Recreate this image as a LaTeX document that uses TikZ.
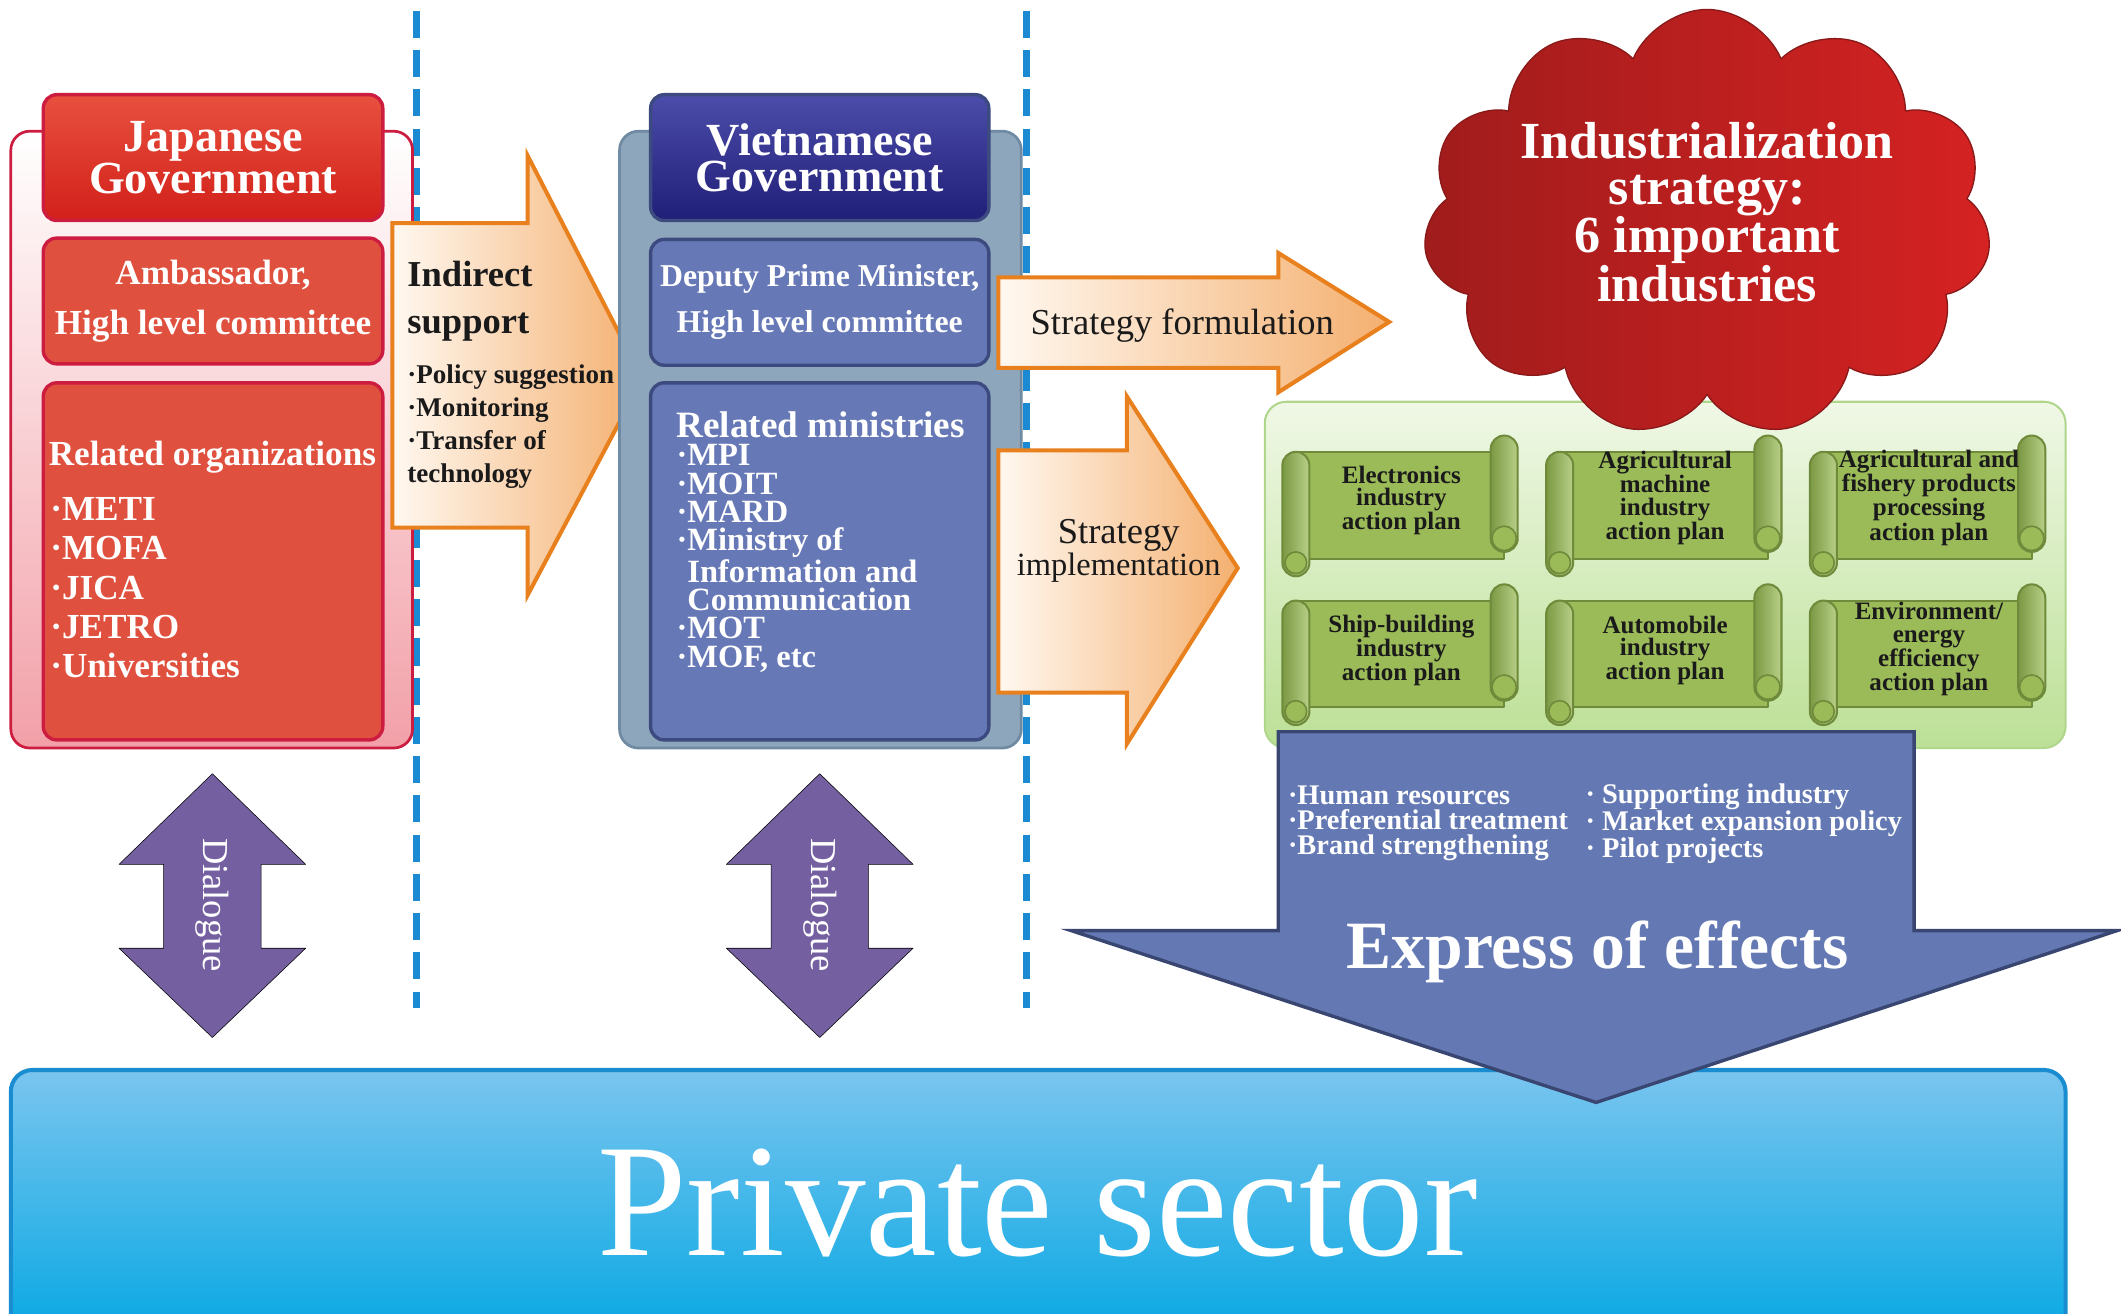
\documentclass[tikz,border=0pt]{standalone}
\usepackage{fontspec}
\setmainfont{Liberation Serif}
\usetikzlibrary{shapes.symbols}
\newcommand{\myfs}[2]{\fontsize{#1}{#2}\selectfont}
\definecolor{jpBorder}{HTML}{CC1C40}
\definecolor{jpOuterF}{HTML}{F2A0A8}
\definecolor{jpHeadT}{HTML}{E8503E}
\definecolor{jpHead}{HTML}{D2201A}
\definecolor{jpAmb}{HTML}{E0503E}
\definecolor{vnOuterF}{HTML}{8EA6BB}
\definecolor{vnOuterB}{HTML}{6F8AA3}
\definecolor{vnHeadT}{HTML}{4C4CAA}
\definecolor{vnHead}{HTML}{1F1F78}
\definecolor{vnBox}{HTML}{6678B6}
\definecolor{vnBorder}{HTML}{3C4A80}
\definecolor{arrL}{HTML}{FFF8F0}
\definecolor{arrR}{HTML}{F4B070}
\definecolor{arrB}{HTML}{E8801E}
\definecolor{cloudL}{HTML}{A01C1C}
\definecolor{cloudR}{HTML}{D62222}
\definecolor{cloudB}{HTML}{8A1A1A}
\definecolor{grT}{HTML}{F0F8E6}
\definecolor{grB}{HTML}{BCE096}
\definecolor{grBorder}{HTML}{B0D68C}
\definecolor{scrF}{HTML}{9BBB59}
\definecolor{scrR}{HTML}{A6C46A}
\definecolor{scrB}{HTML}{6E8A3A}
\definecolor{effF}{HTML}{6479B4}
\definecolor{effB}{HTML}{3A4672}
\definecolor{psT}{HTML}{7AC5EF}
\definecolor{psM}{HTML}{34B0E8}
\definecolor{psB}{HTML}{00A6E2}
\definecolor{psBorder}{HTML}{1A8CD0}
\definecolor{dlg}{HTML}{7460A0}
\definecolor{dashc}{HTML}{1B8AD2}
\definecolor{txtk}{HTML}{1A1A1A}
\tikzset{
  scrollpic/.pic={
    \draw[fill=scrF, draw=scrB, line width=1.5pt] (10,12) rectangle (164,91);
    \draw[left color=scrB!70!scrF, right color=scrR!80!white, draw=scrB, line width=1.5pt, rounded corners=10pt] (0,12) rectangle (20,104);
    \draw[fill=scrF, draw=scrB, line width=1.2pt] (10,94) circle (8);
    \draw[left color=scrB!70!scrF, right color=scrR!80!white, draw=scrB, line width=1.5pt, rounded corners=10pt] (154,0) rectangle (174,86);
    \draw[fill=scrF, draw=scrB, line width=1.2pt] (164,76) circle (9);
  }
}
\begin{document}
\begin{tikzpicture}[x=1pt,y=-1pt,line join=round,
  box/.style={rounded corners=10pt, line width=2.5pt, inner sep=0pt},
  txt/.style={inner sep=0pt},
  wtxt/.style={txt, text=white},
  ktxt/.style={txt, text=txtk},
  bigarrow/.style={draw=arrB, line width=3pt, left color=arrL, right color=arrR, line join=miter},
  dashline/.style={draw=dashc, line width=5pt, dash pattern=on 20pt off 9pt},
  dialogue/.style={fill=dlg},
  scrtxt/.style={ktxt, font=\bfseries\myfs{18.5}{16.5}, align=center}
]
\clip (0,0) rectangle (1568,971);
\fill[white] (0,0) rectangle (1568,971);

% dashed separators
\coordinate (d1a) at (308,8); \coordinate (d1b) at (308,745);
\coordinate (d2a) at (759,8); \coordinate (d2b) at (759,745);
\draw[dashline] (d1a) -- (d1b);
\draw[dashline] (d2a) -- (d2b);

% Japanese government group
\node[box, rounded corners=14pt, draw=jpBorder, line width=2pt, top color=white, bottom color=jpOuterF, minimum width=297pt, minimum height=456pt] (jpouter) at (156.5,325) {};
\node[box, draw=jpBorder, top color=jpHeadT, bottom color=jpHead, minimum width=251pt, minimum height=93pt, text=white, font=\bfseries\myfs{34}{27}, align=center] (jphead) at (157.5,116.5) {Japanese\\Government};
\node[box, draw=jpBorder, fill=jpAmb, minimum width=251pt, minimum height=93pt, text=white, font=\bfseries\myfs{26}{37}, align=center] (jpamb) at (157.5,222.5) {Ambassador,\\High level committee};
\node[box, draw=jpBorder, fill=jpAmb, minimum width=251pt, minimum height=264pt] (jporg) at (157.5,415) {};
\node[wtxt, font=\bfseries\myfs{26}{29}] (jporgt) at (157,338) {Related organizations};
\node[wtxt, anchor=west, align=left, font=\bfseries\myfs{26}{29}] (jporgl) at (37,434.5) {·METI\\·MOFA\\·JICA\\·JETRO\\·Universities};

% Indirect support arrow
\draw[bigarrow] (290,165) -- (390,165) -- (390,115) -- (475,280) -- (390,440) -- (390,390) -- (290,390) -- cycle;
\node[ktxt, anchor=west, align=left, font=\bfseries\myfs{27}{35}] (indt) at (301,222.5) {Indirect\\support};
\node[ktxt, anchor=west, align=left, font=\bfseries\myfs{20}{24.3}] (indl) at (301,315.5) {·Policy suggestion\\·Monitoring\\·Transfer of\\technology};

% Vietnamese government group
\node[box, rounded corners=14pt, draw=vnOuterB, line width=2pt, fill=vnOuterF, minimum width=297pt, minimum height=456pt] (vnouter) at (606.5,325) {};
\node[box, draw=vnBorder, top color=vnHeadT, bottom color=vnHead, minimum width=250pt, minimum height=93pt, text=white, font=\bfseries\myfs{34}{27}, align=center] (vnhead) at (606,116.5) {Vietnamese\\Government};
\node[box, draw=vnBorder, fill=vnBox, minimum width=250pt, minimum height=93pt, text=white, font=\bfseries\myfs{23.5}{34}, align=center] (vndep) at (606,223.5) {Deputy Prime Minister,\\High level committee};
\node[box, draw=vnBorder, fill=vnBox, minimum width=250pt, minimum height=264pt] (vnmin) at (606,415) {};
\node[wtxt, anchor=north west, align=left, font=\bfseries\myfs{24}{21}] (vnminl) at (500,304) {{\myfs{27.5}{24}Related ministries}\\·MPI\\·MOIT\\·MARD\\·Ministry of\\\phantom{·}Information and\\\phantom{·}Communication\\·MOT\\·MOF, etc};

% strategy arrows
\draw[bigarrow] (738,205) -- (945,205) -- (945,187) -- (1027,238) -- (945,290) -- (945,272) -- (738,272) -- cycle;
\node[ktxt, anchor=base, font=\myfs{27}{27}] (formt) at (874,247) {Strategy formulation};
\draw[bigarrow] (738,333) -- (833,333) -- (833,293) -- (915,420) -- (833,550) -- (833,512) -- (738,512) -- cycle;
\node[ktxt, align=center, font=\myfs{24}{21.5}] (implt) at (827,407) {{\myfs{27}{21.5}Strategy}\\implementation};

% green action-plan panel
\node[rounded corners=16pt, draw=grBorder, line width=1.5pt, top color=grT, bottom color=grB, minimum width=592pt, minimum height=256pt, inner sep=0pt] (green) at (1231,425) {};

% cloud
\node[cloud, cloud puffs=11, cloud puff arc=135, cloud ignores aspect, minimum width=420pt, minimum height=316pt, left color=cloudL, right color=cloudR, draw=cloudB, line width=1pt, inner sep=0pt] (cloud) at (1262,165) {};
\node[wtxt, align=center, font=\bfseries\myfs{38.5}{33.5}] (cloudt) at (1262,157) {Industrialization\\strategy:\\6 important\\industries};

% scrolls
\pic at (948,322) {scrollpic};
\pic at (1143,322) {scrollpic};
\pic at (1338,322) {scrollpic};
\pic at (948,432) {scrollpic};
\pic at (1143,432) {scrollpic};
\pic at (1338,432) {scrollpic};
\node[scrtxt] (s1) at (1036,370) {Electronics\\industry\\action plan};
\node[scrtxt] (s2) at (1231,368) {Agricultural\\machine\\industry\\action plan};
\node[scrtxt] (s3) at (1426,368) {Agricultural and\\fishery products\\processing\\action plan};
\node[scrtxt] (s4) at (1036,481) {Ship-building\\industry\\action plan};
\node[scrtxt] (s5) at (1231,481) {Automobile\\industry\\action plan};
\node[scrtxt] (s6) at (1426,480) {Environment/\\energy\\efficiency\\action plan};

% private sector
\node[rounded corners=16pt, draw=psBorder, line width=3pt, top color=psT, middle color=psM, bottom color=psB, minimum width=1519pt, minimum height=210pt, inner sep=0pt] (private) at (767.5,896) {};
\node[wtxt, anchor=base, font=\myfs{119}{119}] (privt) at (767,928) {Private sector};

% express of effects arrow
\draw[fill=effF, draw=effB, line width=2.5pt, line join=miter] (945,541) -- (1415,541) -- (1415,688) -- (1565,688) -- (1180,815) -- (792,688) -- (945,688) -- cycle;
\node[wtxt, anchor=west, align=left, font=\bfseries\myfs{21}{18.5}] (effl) at (952,609) {·Human resources\\·Preferential treatment\\·Brand strengthening};
\node[wtxt, anchor=west, align=left, font=\bfseries\myfs{21}{18.5}] (effr) at (1172,609) {· Supporting industry\\· Market expansion policy\\· Pilot projects};
\node[wtxt, anchor=base, font=\bfseries\myfs{50}{50}] (efft) at (1181,716) {Express of effects};

% dialogue arrows
\draw[dialogue] (157,572) -- (226,639) -- (193,639) -- (193,701) -- (226,701) -- (157,767) -- (88,701) -- (121,701) -- (121,639) -- (88,639) -- cycle;
\node[wtxt, rotate=-90, font=\myfs{27}{27}] (dlg1) at (157,669) {Dialogue};
\draw[dialogue] (606,572) -- (675,639) -- (642,639) -- (642,701) -- (675,701) -- (606,767) -- (537,701) -- (570,701) -- (570,639) -- (537,639) -- cycle;
\node[wtxt, rotate=-90, font=\myfs{27}{27}] (dlg2) at (606,669) {Dialogue};
\end{tikzpicture}
\end{document}
